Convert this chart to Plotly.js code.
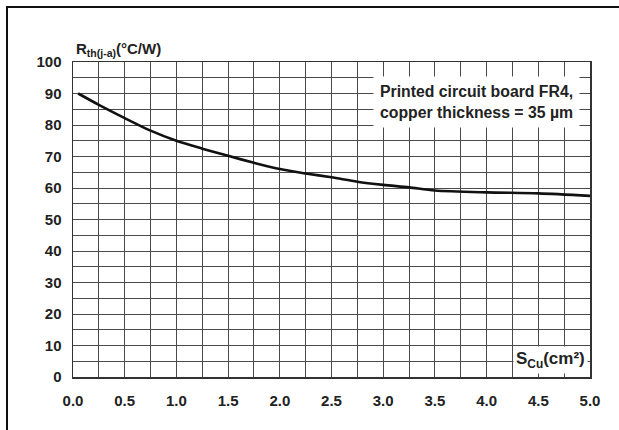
<!DOCTYPE html>
<html>
<head>
<meta charset="utf-8">
<script src="https://cdn.plot.ly/plotly-3.0.1.min.js"></script>
<style>
  html, body { margin: 0; padding: 0; background: #fff; }
  #wrap { position: relative; width: 619px; height: 430px; }
  #chart { position: absolute; left: 0; top: 0; width: 619px; height: 430px; }
  #frame { position: absolute; left: 6px; top: 6px; width: 613px; height: 424px;
           border-top: 2px solid #111; border-left: 2px solid #111; box-sizing: border-box; pointer-events: none; }
</style>
</head>
<body>
<div id="wrap">
  <div id="chart"></div>
  <div id="frame"></div>
</div>
<script>
// Copper area S_Cu (cm²)
const sCu = [0.05, 0.25, 0.5, 0.75, 1.0, 1.25, 1.5, 1.75, 2.0, 2.25, 2.5, 2.75, 3.0, 3.25, 3.5, 4.0, 4.5, 5.0];
// Thermal resistance Rth(j-a) (°C/W)
const rth = [90, 86.4, 82.2, 78.2, 75.0, 72.5, 70.2, 68.0, 66.0, 64.6, 63.4, 62.0, 61.0, 60.2, 59.2, 58.6, 58.3, 57.5];

const xTickVals = [0, 0.5, 1, 1.5, 2, 2.5, 3, 3.5, 4, 4.5, 5];
const xTickText = ["0.0", "0.5", "1.0", "1.5", "2.0", "2.5", "3.0", "3.5", "4.0", "4.5", "5.0"];
const yTickVals = [0, 10, 20, 30, 40, 50, 60, 70, 80, 90, 100];

const yTitle = "R<sub>th(j-a)</sub>(°C/W)";
const xTitle = "S<sub>Cu</sub>(cm²)";
const noteText = "Printed circuit board FR4,<br>copper thickness = 35 µm";

const FONT = "Liberation Sans, Arial, sans-serif";
const GRID = "#4a4a4a";

const trace = {
  x: sCu, y: rth, type: "scatter", mode: "lines",
  line: { color: "#111", width: 2.6, shape: "spline", smoothing: 0.8 },
  hoverinfo: "skip"
};

const layout = {
  width: 619, height: 430,
  margin: { l: 73, r: 29, t: 62, b: 53 },
  paper_bgcolor: "#fff", plot_bgcolor: "#fff",
  showlegend: false,
  font: { family: FONT, color: "#222", size: 15 },
  xaxis: {
    range: [0, 5], tickmode: "array", tickvals: xTickVals, ticktext: xTickText,
    showgrid: true, gridcolor: GRID, gridwidth: 1,
    minor: { dtick: 0.25, showgrid: true, gridcolor: GRID, gridwidth: 1 },
    showline: true, linecolor: "#333", linewidth: 1.5, mirror: true,
    zeroline: false, ticks: "", ticklabelstandoff: 9,
    tickfont: { family: FONT, size: 15, color: "#222", weight: "bold" },
    fixedrange: true
  },
  yaxis: {
    range: [0, 100], tickmode: "array", tickvals: yTickVals,
    showgrid: true, gridcolor: GRID, gridwidth: 1,
    minor: { dtick: 5, showgrid: true, gridcolor: GRID, gridwidth: 1 },
    showline: true, linecolor: "#333", linewidth: 1.5, mirror: true,
    zeroline: false, ticks: "", ticklabelstandoff: 7,
    tickfont: { family: FONT, size: 15, color: "#222", weight: "bold" },
    fixedrange: true
  },
  annotations: [
    { text: yTitle, xref: "paper", yref: "paper", x: 0.002, y: 1, xanchor: "left", yanchor: "bottom",
      yshift: 1, showarrow: false, font: { family: FONT, size: 15, color: "#222", weight: "bold" } },
    { text: xTitle, xref: "x", yref: "y", x: 4.985, y: 0.8, xanchor: "right", yanchor: "bottom",
      showarrow: false, bgcolor: "#fff", borderpad: 2,
      font: { family: FONT, size: 17, color: "#222", weight: "bold" } },
    { text: noteText, xref: "x", yref: "y", x: 3.9, y: 87.4, xanchor: "center", yanchor: "middle",
      align: "left", showarrow: false, bgcolor: "#fff", borderpad: 6,
      font: { family: FONT, size: 15.8, color: "#222", weight: "bold" } }
  ]
};

Plotly.newPlot("chart", [trace], layout, { staticPlot: true, displayModeBar: false });
</script>
</body>
</html>
